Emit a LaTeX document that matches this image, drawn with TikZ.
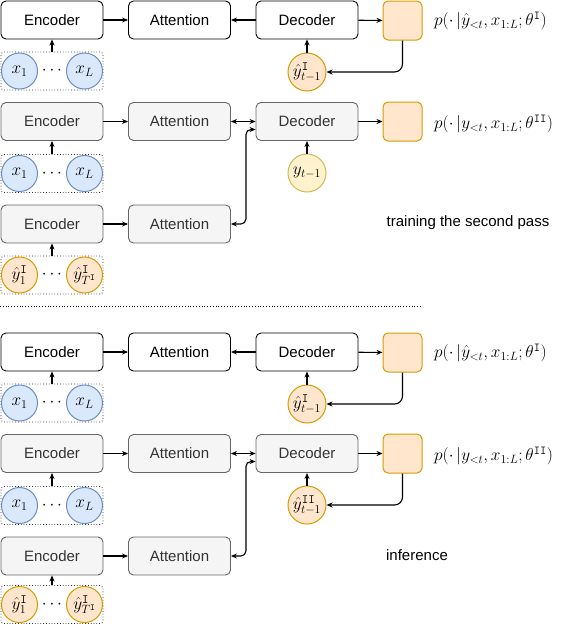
\documentclass[tikz,border=0pt]{standalone}
\usepackage{fontspec}
\setmainfont{Liberation Sans}
\usetikzlibrary{arrows.meta,calc}
\definecolor{grayfill}{HTML}{F5F5F5}
\definecolor{grayline}{HTML}{666666}
\definecolor{graytext}{HTML}{333333}
\definecolor{orfill}{HTML}{FFE6CC}
\definecolor{orline}{HTML}{D79B00}
\definecolor{bluefill}{HTML}{DAE8FC}
\definecolor{blueline}{HTML}{6C8EBF}
\definecolor{yelfill}{HTML}{FFF2CC}
\definecolor{yelline}{HTML}{D6B656}
\begin{document}
\begin{tikzpicture}[x=1pt,y=-1pt,
 box/.style={draw=black, fill=white, rounded corners=5pt, minimum width=102pt, minimum height=38pt, line width=0.9pt, font=\fontsize{15}{18}\selectfont, inner sep=0pt},
 gbox/.style={box, draw=grayline, fill=grayfill, text=graytext},
 sq/.style={draw=orline, fill=orfill, rounded corners=5pt, minimum size=39pt, line width=1pt, inner sep=0pt},
 circ/.style={circle, minimum size=36pt, inner sep=0pt, line width=1pt, font=\fontsize{18}{20}\selectfont},
 bc/.style={circ, draw=blueline, fill=bluefill},
 oc/.style={circ, draw=orline, fill=orfill},
 yc/.style={circ, draw=yelline, fill=yelfill},
 grp/.style={draw=black!80, dotted, rounded corners=3pt, minimum width=102pt, minimum height=38pt, line width=0.8pt, inner sep=0pt},
 dots/.style={inner sep=0pt, font=\fontsize{18}{20}\selectfont},
 arr/.style={-{Stealth[length=6pt,width=5pt]}, line width=1.1pt},
 darr/.style={{Stealth[length=6pt,width=5pt]}-{Stealth[length=6pt,width=5pt]}, line width=1.1pt},
 formula/.style={anchor=west, font=\fontsize{17.3}{20}\selectfont, inner sep=0pt},
 lbl/.style={font=\fontsize{15}{18}\selectfont},
]
\useasboundingbox (0,0) rectangle (560,624);

% ---------- Section A ----------
\node[box] (encA) at (52,20) {Encoder};
\node[box] (attA) at (179.5,20) {Attention};
\node[box] (decA) at (307,20) {Decoder};
\node[sq] (sqA) at (402.5,20.5) {};
\node[formula] (fA) at (434,21) {$p(\cdot\,|\hat{y}_{<t}, x_{1:L}; \theta^{\mathtt{I}})$};
\node[oc, minimum size=38pt] (yA) at (307,72) {$\hat{y}^{\mathtt{I}}_{t-1}$};
\node[grp] (gA) at (52,71) {};
\node[bc] (xA1) at (19.5,71) {$x_1$};
\node[bc] (xAL) at (84.5,71) {$x_L$};
\node[dots] (dA) at (52,71) {$\cdots$};
\draw[arr] (encA) -- (attA);
\draw[arr] (decA) -- (attA);
\draw[arr] (decA) -- (sqA);
\draw[arr] (yA) -- (decA);
\draw[arr] (gA) -- (encA);
\draw[arr, rounded corners=8pt] (sqA.south) |- (yA.east);

% ---------- Section B ----------
\node[gbox] (encB) at (52,121.5) {Encoder};
\node[gbox] (attB) at (179.5,121.5) {Attention};
\node[gbox] (decB) at (307,121.5) {Decoder};
\node[sq] (sqB) at (402.5,121.5) {};
\node[formula] (fB) at (434,124) {$p(\cdot\,|y_{<t}, x_{1:L}; \theta^{\mathtt{II}})$};
\node[yc, minimum size=38pt] (yB) at (307,173) {$y_{t-1}$};
\node[grp] (gB) at (52,173.5) {};
\node[bc] (xB1) at (19.5,173.5) {$x_1$};
\node[bc] (xBL) at (84.5,173.5) {$x_L$};
\node[dots] (dB) at (52,173.5) {$\cdots$};

% ---------- Section C ----------
\node[gbox] (encC) at (52,224) {Encoder};
\node[gbox] (attC) at (179.5,224) {Attention};
\node[grp] (gC) at (52,275) {};
\node[oc] (yC1) at (19.5,275) {$\hat{y}^{\mathtt{I}}_1$};
\node[oc] (yCT) at (84.5,275) {$\hat{y}^{\mathtt{I}}_{T^{\mathtt{I}}}$};
\node[dots] (dC) at (52,275) {$\cdots$};
\node[lbl] (train) at (468,223) {training the second pass};

\draw[arr] (encB) -- (attB);
\draw[darr] (attB) -- (decB);
\draw[arr] (decB) -- (sqB);
\draw[arr] (yB) -- (decB);
\draw[arr] (gB) -- (encB);
\draw[arr] (encC) -- (attC);
\draw[arr] (gC) -- (encC);
\draw[darr, rounded corners=5pt] (attC.east) -- ++(15,0) |- ([yshift=-8pt]decB.west);

% separator
\coordinate (sepL) at (0,306);
\coordinate (sepR) at (421,306);
\draw[dotted, line width=0.8pt] (sepL) -- (sepR);

% ---------- Section D ----------
\node[box] (encD) at (52,352) {Encoder};
\node[box] (attD) at (179.5,352) {Attention};
\node[box] (decD) at (307,352) {Decoder};
\node[sq] (sqD) at (402.5,352.5) {};
\node[formula] (fD) at (434,353) {$p(\cdot\,|\hat{y}_{<t}, x_{1:L}; \theta^{\mathtt{I}})$};
\node[oc, minimum size=38pt] (yD) at (307,404) {$\hat{y}^{\mathtt{I}}_{t-1}$};
\node[grp] (gD) at (52,403) {};
\node[bc] (xD1) at (19.5,403) {$x_1$};
\node[bc] (xDL) at (84.5,403) {$x_L$};
\node[dots] (dD) at (52,403) {$\cdots$};
\draw[arr] (encD) -- (attD);
\draw[arr] (decD) -- (attD);
\draw[arr] (decD) -- (sqD);
\draw[arr] (yD) -- (decD);
\draw[arr] (gD) -- (encD);
\draw[arr, rounded corners=8pt] (sqD.south) |- (yD.east);

% ---------- Section E ----------
\node[gbox] (encE) at (52,453.5) {Encoder};
\node[gbox] (attE) at (179.5,453.5) {Attention};
\node[gbox] (decE) at (307,453.5) {Decoder};
\node[sq] (sqE) at (402.5,453.5) {};
\node[formula] (fE) at (434,456) {$p(\cdot\,|y_{<t}, x_{1:L}; \theta^{\mathtt{II}})$};
\node[oc, minimum size=38pt] (yE) at (307,505) {$\hat{y}^{\mathtt{II}}_{t-1}$};
\node[grp] (gE) at (52,505.5) {};
\node[bc] (xE1) at (19.5,505.5) {$x_1$};
\node[bc] (xEL) at (84.5,505.5) {$x_L$};
\node[dots] (dE) at (52,505.5) {$\cdots$};

% ---------- Section F ----------
\node[gbox] (encF) at (52,556) {Encoder};
\node[gbox] (attF) at (179.5,556) {Attention};
\node[grp] (gF) at (52,604.5) {};
\node[oc] (yF1) at (19.5,604.5) {$\hat{y}^{\mathtt{I}}_1$};
\node[oc] (yFT) at (84.5,604.5) {$\hat{y}^{\mathtt{I}}_{T^{\mathtt{I}}}$};
\node[dots] (dF) at (52,604.5) {$\cdots$};
\node[lbl] (infer) at (417,555) {inference};

\draw[arr] (encE) -- (attE);
\draw[darr] (attE) -- (decE);
\draw[arr] (decE) -- (sqE);
\draw[arr] (yE) -- (decE);
\draw[arr] (gE) -- (encE);
\draw[arr, rounded corners=8pt] (sqE.south) |- (yE.east);
\draw[arr] (encF) -- (attF);
\draw[arr] (gF) -- (encF);
\draw[darr, rounded corners=5pt] (attF.east) -- ++(15,0) |- ([yshift=-8pt]decE.west);
\end{tikzpicture}
\end{document}
